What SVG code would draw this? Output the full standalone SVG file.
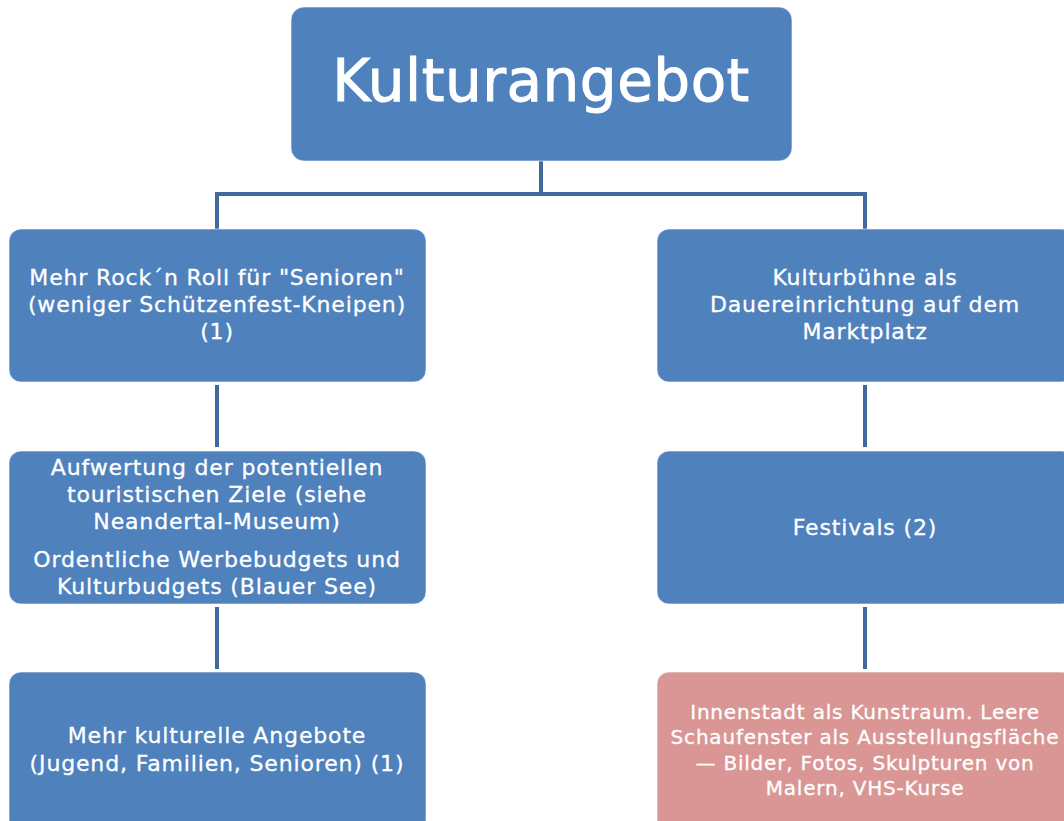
<svg xmlns="http://www.w3.org/2000/svg" width="1064" height="821" viewBox="0 0 1064 821">
<style>
.box{fill:#4F81BD;stroke:#ffffff;stroke-opacity:0.6;stroke-width:1}
.pink{fill:#D99694;stroke:#ffffff;stroke-opacity:0.6;stroke-width:1}
.t{font-family:"DejaVu Sans",Verdana,sans-serif;font-size:22px;letter-spacing:0.85px;fill:#ffffff;stroke:#ffffff;stroke-width:0.3px;text-anchor:middle}
.tp{font-family:"DejaVu Sans",Verdana,sans-serif;font-size:20px;letter-spacing:0.8px;fill:#ffffff;stroke:#ffffff;stroke-width:0.3px;text-anchor:middle}
.title{font-family:"DejaVu Sans",Verdana,sans-serif;font-size:58px;letter-spacing:0.5px;fill:#ffffff;stroke:#ffffff;stroke-width:1px;text-anchor:middle}
.c{stroke:#41699B;stroke-width:4;fill:none}
</style>
<rect width="1064" height="821" fill="#ffffff"/>
<g id="connectors">
<path class="c" d="M541 161V194M217 194H865M217 192V229M865 192V229"/>
<path class="c" d="M217 385V447M217 607V669"/>
<path class="c" d="M865 385V447M865 607V669"/>
</g>
<g id="n0">
<rect class="box" x="291" y="7" width="501" height="154" rx="13"/>
<text class="title" x="541" y="101">Kulturangebot</text>
</g>
<g id="n1">
<rect class="box" x="9" y="229" width="417" height="153" rx="12"/>
<text class="t" x="217" y="285">Mehr Rock´n Roll für "Senioren"</text>
<text class="t" x="217" y="312">(weniger Schützenfest-Kneipen)</text>
<text class="t" x="217" y="339">(1)</text>
</g>
<g id="n2">
<rect class="box" x="9" y="451" width="417" height="153" rx="12"/>
<text class="t" x="217" y="475">Aufwertung der potentiellen</text>
<text class="t" x="217" y="502">touristischen Ziele (siehe</text>
<text class="t" x="217" y="529">Neandertal-Museum)</text>
<text class="t" x="217" y="567">Ordentliche Werbebudgets und</text>
<text class="t" x="217" y="594">Kulturbudgets (Blauer See)</text>
</g>
<g id="n3">
<rect class="box" x="9" y="672" width="417" height="160" rx="12"/>
<text class="t" x="217" y="743">Mehr kulturelle Angebote</text>
<text class="t" x="217" y="771">(Jugend, Familien, Senioren) (1)</text>
</g>
<g id="n4">
<rect class="box" x="657" y="229" width="417" height="153" rx="12"/>
<text class="t" x="865" y="285">Kulturbühne als</text>
<text class="t" x="865" y="312">Dauereinrichtung auf dem</text>
<text class="t" x="865" y="339">Marktplatz</text>
</g>
<g id="n5">
<rect class="box" x="657" y="451" width="417" height="153" rx="12"/>
<text class="t" x="865" y="535">Festivals (2)</text>
</g>
<g id="n6">
<rect class="pink" x="657" y="672" width="417" height="160" rx="12"/>
<text class="tp" x="865" y="719">Innenstadt als Kunstraum. Leere</text>
<text class="tp" x="865" y="744">Schaufenster als Ausstellungsfläche</text>
<text class="tp" x="865" y="770">— Bilder, Fotos, Skulpturen von</text>
<text class="tp" x="865" y="795">Malern, VHS-Kurse</text>
</g>
</svg>
